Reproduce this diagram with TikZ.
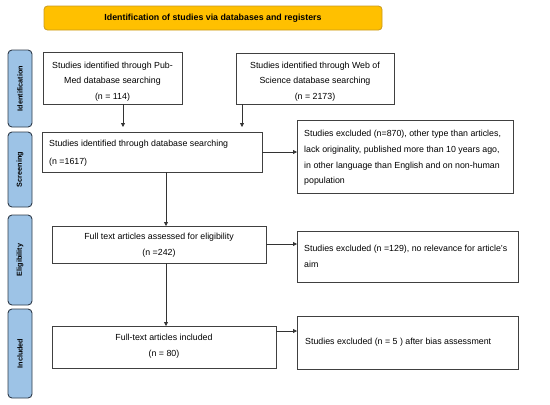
\documentclass[tikz,border=0pt]{standalone}
\usepackage{fontspec}
\setmainfont{Liberation Sans}
\usetikzlibrary{arrows.meta}
\definecolor{hdr}{HTML}{FFC000}
\definecolor{hdrb}{HTML}{C99A1E}
\definecolor{side}{HTML}{9DC3E6}
\definecolor{sideb}{HTML}{2F3B4A}
\begin{document}
\begin{tikzpicture}[x=1bp,y=-1bp,
  box/.style={draw=black!75,line width=0.8bp,fill=white},
  sidebox/.style={draw=sideb,line width=0.9bp,fill=side,rounded corners=4bp},
  sidetext/.style={font=\fontsize{7.3}{8}\selectfont\bfseries,rotate=90},
  txt/.style={font=\fontsize{8.85}{15.7}\selectfont,align=center,inner sep=0},
  txtl/.style={font=\fontsize{8.85}{15.7}\selectfont,align=left,inner sep=0,anchor=west},
  arr/.style={draw=black!80,line width=0.8bp,-{Triangle[length=4bp,width=4bp]}}]
\useasboundingbox (0,0) rectangle (550,404);
% header
\draw[fill=hdr,draw=hdrb,line width=0.8bp,rounded corners=3.5bp] (44,6) rectangle (382,30);
\node[font=\fontsize{8.85}{10}\selectfont\bfseries] (hdr) at (213,18) {Identification of studies via databases and registers};
% side labels
\draw[sidebox] (8,50) rectangle (32,127);
\node[sidetext] (s1) at (20,88.5) {Identification};
\draw[sidebox] (8,132) rectangle (32,207);
\node[sidetext] (s2) at (20,169.5) {Screening};
\draw[sidebox] (8,215) rectangle (32,305);
\node[sidetext] (s3) at (20,260) {Eligibility};
\draw[sidebox] (8,309) rectangle (32,398);
\node[sidetext] (s4) at (20,353.5) {Included};
% boxes
\draw[box] (43,52) rectangle (182,104);
\node[txt] (pm) at (112.5,81.5) {Studies identified through Pub-\\Med database searching\\(n = 114)};
\coordinate (pmb) at (123,104);
\draw[box] (236,53) rectangle (394,104);
\node[txt] (wos) at (315,81.5) {Studies identified through Web of\\Science database searching\\(n = 2173)};
\coordinate (wosb) at (242,104);

\draw[box] (42,132) rectangle (262,172);
\node[txtl,font=\fontsize{8.85}{17.5}\selectfont] (scr) at (49,153) {Studies identified through database searching\\(n =1617)};
\coordinate (scrt1) at (123,131);
\coordinate (scrt2) at (242,131);
\coordinate (scrr) at (262,152);
\coordinate (scrb) at (166,172);

\draw[box] (297,120) rectangle (513,193);
\node[txtl] (ex1) at (304,158) {Studies excluded (n=870), other type than articles,\\lack originality, published more than 10 years ago,\\in other language than English and on non-human\\population};
\coordinate (ex1l) at (297,152);

\draw[box] (52,226) rectangle (266,263);
\node[txt] (el) at (159,245) {Full text articles assessed for eligibility\\(n =242)};
\coordinate (elt) at (166,226);
\coordinate (elr) at (266,244);
\coordinate (elb) at (166,263);

\draw[box] (297,231) rectangle (518,282);
\node[txtl] (ex2) at (304,256.5) {Studies excluded (n =129), no relevance for article's\\aim};
\coordinate (ex2l) at (297,244);

\draw[box] (52,326) rectangle (276,368);
\node[txt] (inc) at (164,346.5) {Full-text articles included\\(n = 80)};
\coordinate (inct) at (166,326);
\coordinate (incr) at (276,331);

\draw[box] (297,316) rectangle (518,369);
\node[txtl] (ex3) at (305,342.5) {Studies excluded (n = 5 ) after bias assessment};
\coordinate (ex3l) at (297,331);

% arrows
\draw[arr,shorten >=4bp] (pmb) -- (scrt1);
\draw[arr,shorten >=4bp] (wosb) -- (scrt2);
\draw[arr] (scrr) -- (ex1l);
\draw[arr] (scrb) -- (elt);
\draw[arr] (elr) -- (ex2l);
\draw[arr] (elb) -- (inct);
\draw[arr] (incr) -- (ex3l);
\end{tikzpicture}
\end{document}
